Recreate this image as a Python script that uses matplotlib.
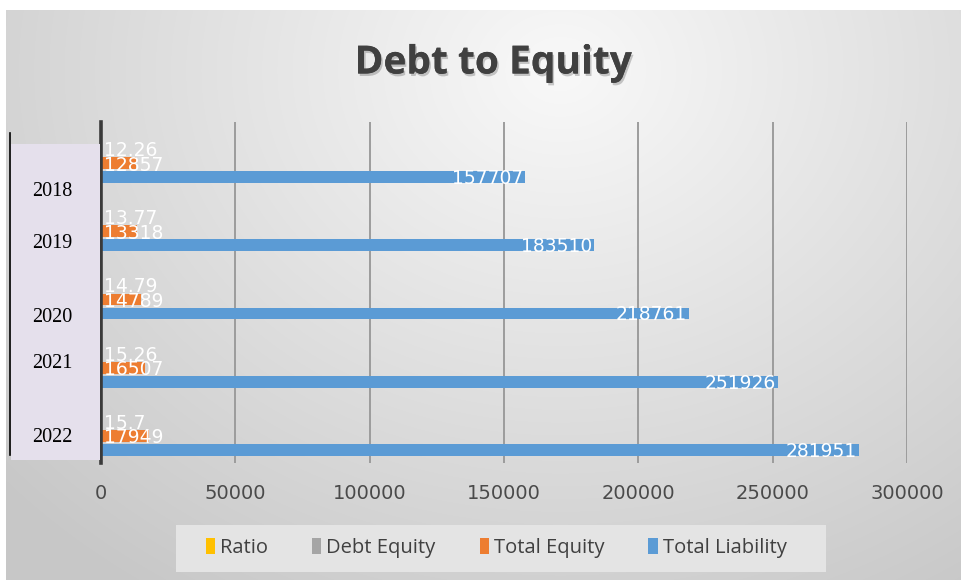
#!/usr/bin/env python3
# Debt to Equity - horizontal grouped bars, Excel style
import numpy as np
import matplotlib.pyplot as plt
import matplotlib.patheffects as pe
from matplotlib.patches import Rectangle, Patch
from matplotlib.lines import Line2D

YEARS = ['2018', '2019', '2020', '2021', '2022']
TOTAL_LIABILITY = [157707, 183510, 218761, 251926, 281951]
TOTAL_EQUITY = [12857, 13318, 14789, 16507, 17949]
DEBT_EQUITY = [12.26, 13.77, 14.79, 15.26, 15.7]
RATIO = [0, 0, 0, 0, 0]   # empty series, only shows in legend
X_TICKS = [0, 50000, 100000, 150000, 200000, 250000, 300000]

C_BLUE = '#5b9bd5'
C_ORANGE = '#ed7d31'
C_GRAY = '#a5a5a5'
C_YELLOW = '#ffc000'

W, H = 961, 580
fig = plt.figure(figsize=(W / 100, H / 100), dpi=100)

# background gradient (lighter near the top middle)
bg = fig.add_axes([0, 0, 1, 1], zorder=-10)
yy, xx = np.mgrid[0:H, 0:W]
d = np.sqrt(((xx - 560) / 620.0) ** 2 + ((yy - 70) / 520.0) ** 2)
val = 0.975 - 0.16 * np.clip(d, 0, 1.2)
img = np.dstack([val, val, val])
img[:10, :, :] = 1.0
img[:, :6, :] = 1.0
bg.imshow(img, extent=[0, W, H, 0], aspect='auto', interpolation='bilinear')
bg.set_xlim(0, W)
bg.set_ylim(H, 0)
bg.axis('off')


def fx(px):
    return px / W


def fy(py):
    return 1 - py / H


ax = fig.add_axes([fx(101), fy(463), fx(907) - fx(101), fy(122) - fy(463)])
ax.patch.set_alpha(0)

n = len(YEARS)
y = np.arange(n)
slot = 0.205
bh = 0.175
series = [
    (TOTAL_LIABILITY, C_BLUE, 1.5),
    (TOTAL_EQUITY, C_ORANGE, 0.5),
    (DEBT_EQUITY, C_GRAY, -0.5),
    (RATIO, C_YELLOW, -1.5),
]
for vals, col, off in series:
    ax.barh(y + off * slot, vals, height=bh, color=col, zorder=3)

lab_font = dict(color='white', fontsize=13.5, va='center', zorder=5,
                family='DejaVu Sans')
for i in range(n):
    ax.text(TOTAL_LIABILITY[i] - 600, y[i] + 1.5 * slot + 0.02, str(TOTAL_LIABILITY[i]),
            ha='right', **lab_font)
    ax.text(1300, y[i] + 0.5 * slot + 0.03, str(TOTAL_EQUITY[i]), ha='left', **lab_font)
    ax.text(1300, y[i] - 0.5 * slot + 0.02, f'{DEBT_EQUITY[i]:g}', ha='left', **lab_font)

ax.set_xlim(0, 300000)
ax.set_ylim(n - 0.5, -0.5)
ax.set_xticks(X_TICKS)
ax.set_xticklabels([str(t) for t in X_TICKS], fontsize=14, color='#4a4a4a',
                   family='DejaVu Sans')
ax.tick_params(axis='x', length=0, pad=15)
ax.set_yticks([])
ax.grid(axis='x', color='#9c9c9c', linewidth=1.4, zorder=0)
for s in ['top', 'right', 'bottom']:
    ax.spines[s].set_visible(False)
ax.spines['left'].set_color('#3a3a3a')
ax.spines['left'].set_linewidth(2.6)
ax.spines['left'].set_zorder(6)

# title with soft shadow
fig.text(fx(493), fy(63), 'Debt to Equity', ha='center', va='center',
         fontsize=28, fontweight='bold', family='Open Sans', color='#404040',
         path_effects=[pe.withSimplePatchShadow(offset=(1.2, -1.8), alpha=0.2,
                                                shadow_rgbFace='#000000'),
                       pe.Normal()])

# pasted year box on the left
fig.patches.append(Rectangle((fx(11), fy(460)), fx(100) - fx(11), fy(144) - fy(460),
                             transform=fig.transFigure, facecolor='#e5e0ec',
                             edgecolor='none', zorder=1))
fig.lines.append(Line2D([fx(10), fx(10)], [fy(133), fy(455)],
                        transform=fig.transFigure, color='black', linewidth=1.2,
                        zorder=2))
YEAR_LABEL_PY = [192, 243, 317, 364, 438]
for yr, py in zip(YEARS, YEAR_LABEL_PY):
    fig.text(fx(32), fy(py), yr, ha='left', va='center', fontsize=14.5,
             family='Liberation Serif', color='black', zorder=3)

# legend box
fig.patches.append(Rectangle((fx(176), fy(572)), fx(826) - fx(176), fy(525) - fy(572),
                             transform=fig.transFigure, facecolor='#e4e4e4',
                             edgecolor='none', zorder=1))
handles = [Patch(facecolor=c, edgecolor='none')
           for c in [C_YELLOW, C_GRAY, C_ORANGE, C_BLUE]]
leg = fig.legend(handles, ['Ratio', 'Debt Equity', 'Total Equity', 'Total Liability'],
                 loc='center', bbox_to_anchor=(fx(496), fy(548)), ncol=4,
                 frameon=False, handlelength=0.45, handleheight=0.8,
                 handletextpad=0.25, columnspacing=2.2,
                 prop={'family': 'Open Sans', 'size': 14.5})
for t in leg.get_texts():
    t.set_color('#404040')

fig.savefig('out.png', dpi=100)
